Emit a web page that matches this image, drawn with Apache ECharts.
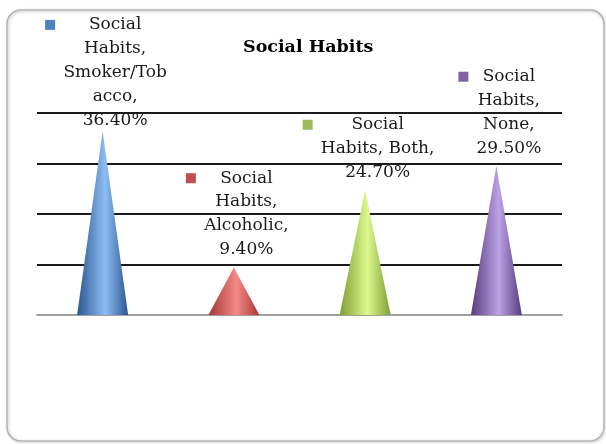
<!DOCTYPE html>
<html><head><meta charset="utf-8">
<script src="https://cdn.jsdelivr.net/npm/echarts@6/dist/echarts.min.js"></script>
<style>html,body{margin:0;padding:0;background:#fff}#c{width:606px;height:444px}</style>
</head><body><div id="c"></div>
<script>
const categories = ['Smoker/Tobacco', 'Alcoholic', 'Both', 'None'];
const values = [36.4, 9.4, 24.7, 29.5];
const labelLines = [
  ['Social', 'Habits,', 'Smoker/Tob', 'acco,'],
  ['Social', 'Habits,', 'Alcoholic,'],
  ['Social', 'Habits, Both,'],
  ['Social', 'Habits,', 'None,']
];
const keyColors = ['#4F81BD', '#C0504D', '#9BBB59', '#8064A2'];
const coneDark = ['#2B568F', '#A83634', '#7E9E34', '#553C7C'];
const coneLight = ['#8DBDF4', '#F28A88', '#DDF88E', '#BCA3E6'];
const yTicks = [0, 10, 20, 30, 40];

const FONT = '"DejaVu Serif", serif';
const FS = 17;
const LH = 23.8;
const chartTopLimit = 13; // labels are kept inside the chart frame
const cv = document.createElement('canvas').getContext('2d');
cv.font = FS + 'px ' + FONT;

const gridTop = 113, gridBottom = 444 - 129, yMax = yTicks[yTicks.length - 1];

const data = values.map((v, i) => {
  const lines = labelLines[i].concat([v.toFixed(2) + '%']);
  const W = Math.ceil(Math.max(...lines.map(l => cv.measureText(l).width))) + 2;
  const fmt = lines.map((l, k) => (k === 0 ? '{sq|}{gap|}' : '{blank|}') + '{t|' + l + '}').join('\n');
  const tipY = gridBottom - (gridBottom - gridTop) * v / yMax;
  const dist = 6;
  const labelTop = tipY - dist - lines.length * LH;
  const shiftY = Math.max(0, chartTopLimit - labelTop);
  return {
    value: v,
    itemStyle: {
      color: new echarts.graphic.LinearGradient(0, 0, 1, 0, [
        { offset: 0, color: coneDark[i] },
        { offset: 0.55, color: coneLight[i] },
        { offset: 1, color: coneDark[i] }
      ])
    },
    label: {
      show: true,
      position: 'top',
      distance: dist,
      offset: [4, shiftY],
      formatter: fmt,
      rich: {
        sq: { width: 10, height: 10, backgroundColor: keyColors[i], align: 'left', verticalAlign: 'middle', lineHeight: LH },
        gap: { width: 7, align: 'left', lineHeight: LH },
        blank: { width: 17, align: 'left', lineHeight: LH },
        t: { width: W, align: 'center', fontFamily: FONT, fontSize: FS, color: '#1a1a1a', lineHeight: LH }
      }
    }
  };
});

const chart = echarts.init(document.getElementById('c'), null, { renderer: 'canvas' });
chart.setOption({
  animation: false,
  backgroundColor: '#fff',
  title: {
    text: 'Social Habits',
    left: 243, top: 38, padding: 0,
    textStyle: { fontFamily: FONT, fontWeight: 'bold', fontSize: 17.5, color: '#000' }
  },
  graphic: [{
    type: 'rect', z: -1, silent: true,
    shape: { x: 7, y: 10, width: 597, height: 431, r: 14 },
    style: { fill: 'none', stroke: '#b5b5b5', lineWidth: 1.5, shadowBlur: 3, shadowColor: 'rgba(0,0,0,0.25)', shadowOffsetX: 1, shadowOffsetY: 1 }
  }],
  grid: { left: 37, right: 44, top: gridTop, bottom: 129 },
  xAxis: {
    type: 'category', data: categories,
    axisLine: { lineStyle: { color: '#a0a0a0', width: 2 } },
    axisTick: { show: false }, axisLabel: { show: false }
  },
  yAxis: {
    type: 'value', min: yTicks[0], max: yMax, interval: yTicks[1] - yTicks[0],
    axisLine: { show: false }, axisTick: { show: false }, axisLabel: { show: false },
    splitLine: { lineStyle: { color: ['transparent', '#1a1a1a', '#1a1a1a', '#1a1a1a', '#1a1a1a'], width: 2 } }
  },
  series: [{
    type: 'pictorialBar',
    symbol: 'triangle',
    symbolSize: [51, '100%'],
    data: data
  }]
});
</script></body></html>
